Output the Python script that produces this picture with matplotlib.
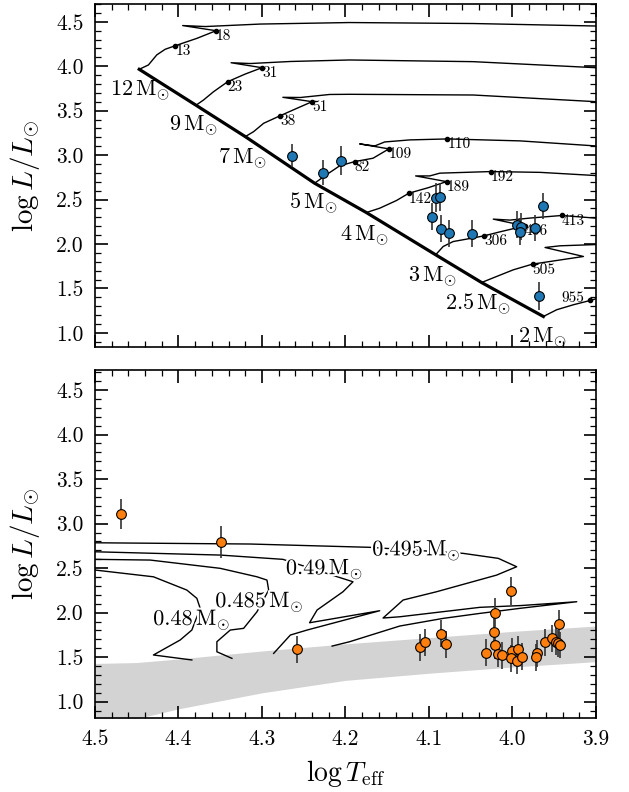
import numpy as np
import matplotlib
matplotlib.use("Agg")
import matplotlib.pyplot as plt
import matplotlib.patheffects as pe
from matplotlib.ticker import MultipleLocator, FormatStrFormatter

plt.rcParams['font.family'] = 'serif'
plt.rcParams['font.serif'] = ['cmr10']
plt.rcParams['mathtext.fontset'] = 'cm'
plt.rcParams['axes.formatter.use_mathtext'] = True

# ---------------- top panel: main-sequence tracks ----------------
track_masses = ['12', '9', '7', '5', '4', '3', '2.5', '2']

trk_12_T = [4.447, 4.436, 4.426, 4.416, 4.404, 4.378, 4.355, 4.395, 4.368, 4.302, 4.195, 4.047, 3.900]
trk_12_L = [3.965, 4.014, 4.127, 4.190, 4.230, 4.313, 4.399, 4.457, 4.446, 4.474, 4.491, 4.480, 4.452]
trk_9_T = [4.379, 4.370, 4.358, 4.341, 4.320, 4.300, 4.337, 4.314, 4.266, 4.195, 4.047, 3.900]
trk_9_L = [3.561, 3.620, 3.713, 3.826, 3.912, 3.983, 4.039, 4.030, 4.053, 4.070, 4.051, 3.983]
trk_7_T = [4.320, 4.310, 4.298, 4.278, 4.258, 4.240, 4.275, 4.254, 4.219, 4.195, 4.047, 3.900]
trk_7_L = [3.208, 3.264, 3.358, 3.444, 3.527, 3.601, 3.650, 3.648, 3.682, 3.684, 3.676, 3.601]
trk_5_T = [4.237, 4.223, 4.207, 4.189, 4.167, 4.148, 4.183, 4.165, 4.153, 4.123, 4.078, 3.991, 3.900]
trk_5_L = [2.684, 2.778, 2.879, 2.927, 2.965, 3.070, 3.126, 3.103, 3.148, 3.171, 3.182, 3.160, 3.103]
trk_4_T = [4.175, 4.159, 4.139, 4.124, 4.101, 4.079, 4.116, 4.099, 4.087, 4.026, 3.967, 3.900]
trk_4_L = [2.354, 2.403, 2.489, 2.572, 2.633, 2.702, 2.766, 2.766, 2.797, 2.815, 2.806, 2.770]
trk_3_T = [4.092, 4.083, 4.071, 4.055, 4.034, 4.015, 3.985, 4.023, 4.003, 3.979, 3.941, 3.900]
trk_3_L = [1.879, 1.972, 2.028, 2.055, 2.092, 2.137, 2.204, 2.280, 2.269, 2.292, 2.321, 2.291]
trk_25_T = [4.037, 4.019, 3.999, 3.976, 3.915, 3.961, 3.943, 3.900]
trk_25_L = [1.567, 1.635, 1.710, 1.774, 1.860, 1.961, 1.980, 1.994]
trk_2_T = [3.963, 3.947, 3.927, 3.907, 3.900]
trk_2_L = [1.185, 1.261, 1.317, 1.365, 1.384]

tracks_T = [trk_12_T, trk_9_T, trk_7_T, trk_5_T, trk_4_T, trk_3_T, trk_25_T, trk_2_T]
tracks_L = [trk_12_L, trk_9_L, trk_7_L, trk_5_L, trk_4_L, trk_3_L, trk_25_L, trk_2_L]

# mass label anchor (right end of label)
mlab_T = [4.410, 4.353, 4.294, 4.209, 4.148, 4.066, 4.001, 3.935]
mlab_L = [3.725, 3.328, 2.965, 2.459, 2.092, 1.635, 1.328, 0.949]

# age markers (Myr) along the tracks
age_lbl = ['13', '18', '23', '31', '38', '51', '82', '109', '110', '142',
           '189', '192', '306', '406', '413', '505', '955']
age_T = [4.404, 4.355, 4.341, 4.300, 4.278, 4.240, 4.189, 4.148, 4.078, 4.124,
         4.079, 4.026, 4.034, 3.985, 3.941, 3.976, 3.907]
age_L = [4.230, 4.399, 3.826, 3.983, 3.444, 3.601, 2.927, 3.070, 3.182, 2.572,
         2.702, 2.815, 2.092, 2.204, 2.321, 1.774, 1.365]

# observed stars (blue)
blue_T = [4.264, 4.227, 4.205, 4.092, 4.087, 4.096, 4.086, 4.076, 4.048,
          3.964, 3.995, 3.990, 3.991, 3.973, 3.968]
blue_L = [2.994, 2.803, 2.938, 2.522, 2.530, 2.309, 2.174, 2.122, 2.118,
          2.429, 2.216, 2.197, 2.140, 2.182, 1.415]
blue_err = [0.13, 0.14, 0.16, 0.16, 0.16, 0.15, 0.15, 0.15, 0.15,
            0.15, 0.15, 0.15, 0.15, 0.15, 0.16]

# ---------------- bottom panel: HB tracks ----------------
hb_masses = ['0.48', '0.485', '0.49', '0.495']
hb_48_T = [4.384, 4.430, 4.398, 4.384, 4.374, 4.378, 4.390, 4.430, 4.500]
hb_48_L = [1.469, 1.525, 1.693, 1.805, 2.049, 2.161, 2.254, 2.403, 2.479]
hb_485_T = [4.336, 4.354, 4.354, 4.338, 4.322, 4.306, 4.292, 4.294, 4.306, 4.350, 4.434, 4.500]
hb_485_L = [1.487, 1.561, 1.674, 1.805, 1.824, 2.010, 2.254, 2.366, 2.403, 2.498, 2.591, 2.599]
hb_49_T = [4.286, 4.266, 4.246, 4.159, 4.243, 4.234, 4.203, 4.191, 4.275, 4.350, 4.500]
hb_49_L = [1.543, 1.749, 1.805, 2.022, 1.887, 2.030, 2.235, 2.347, 2.599, 2.647, 2.684]
hb_495_T = [4.216, 4.195, 4.135, 4.083, 4.039, 3.990, 3.923, 3.990, 4.039, 4.135, 4.155,
            4.131, 4.091, 4.019, 3.995, 4.017, 4.059, 4.171, 4.314, 4.500]
hb_495_L = [1.625, 1.674, 1.850, 1.936, 1.992, 2.050, 2.123, 2.080, 2.060, 1.954, 1.940,
            2.142, 2.235, 2.422, 2.516, 2.610, 2.666, 2.734, 2.771, 2.785]
hb_T = [hb_48_T, hb_485_T, hb_49_T, hb_495_T]
hb_L = [hb_48_L, hb_485_L, hb_49_L, hb_495_L]
hblab_T = [4.384, 4.303, 4.225, 4.115]
hblab_L = [1.917, 2.123, 2.486, 2.703]

# grey band (ZAHB region)
band_T = [4.50, 4.45, 4.40, 4.30, 4.20, 4.10, 4.00, 3.90]
band_lo = [0.70, 0.81, 0.92, 1.10, 1.24, 1.32, 1.39, 1.45]
band_hi = [1.43, 1.44, 1.48, 1.57, 1.65, 1.72, 1.79, 1.85]

# observed stars (orange)
orng_T = [4.469, 4.349, 4.258, 4.111, 4.105, 4.086, 4.080, 4.032, 4.022, 4.021,
          4.021, 4.017, 4.012, 4.002, 4.000, 3.993, 4.002, 3.995, 3.988, 3.971,
          3.972, 3.961, 3.953, 3.948, 3.944, 3.945, 3.943]
orng_L = [3.108, 2.796, 1.588, 1.611, 1.667, 1.763, 1.644, 1.550, 1.786, 2.000,
          1.633, 1.535, 1.521, 2.243, 1.569, 1.588, 1.487, 1.457, 1.505, 1.543,
          1.498, 1.667, 1.712, 1.673, 1.872, 1.656, 1.636]
orng_err = [0.17, 0.18, 0.15, 0.15, 0.15, 0.15, 0.15, 0.15, 0.16, 0.16,
            0.15, 0.15, 0.15, 0.16, 0.15, 0.15, 0.15, 0.15, 0.15, 0.15,
            0.15, 0.15, 0.15, 0.15, 0.16, 0.15, 0.15]

fig = plt.figure(figsize=(6.29, 7.92), dpi=100)
ax1 = fig.add_axes([0.151, 0.562, 0.7965, 0.433])
ax2 = fig.add_axes([0.151, 0.0934, 0.7965, 0.4394])


def style_axis(ax, ylim):
    ax.set_xlim(4.5, 3.9)
    ax.set_ylim(*ylim)
    ax.xaxis.set_major_locator(MultipleLocator(0.1))
    ax.xaxis.set_minor_locator(MultipleLocator(0.02))
    ax.yaxis.set_major_locator(MultipleLocator(0.5))
    ax.yaxis.set_minor_locator(MultipleLocator(0.1))
    ax.xaxis.set_major_formatter(FormatStrFormatter('%.1f'))
    ax.yaxis.set_major_formatter(FormatStrFormatter('%.1f'))
    ax.tick_params(which='both', direction='in', top=True, right=True)
    ax.tick_params(which='major', length=9, width=1.2, labelsize=15.5, pad=8)
    ax.tick_params(which='minor', length=4.5, width=0.9)
    for s in ax.spines.values():
        s.set_linewidth(1.2)
    ax.set_ylabel(r'$\log L/L_{\odot}$', fontsize=21)
    ax.yaxis.set_label_coords(-0.105, 0.5)


# ---- top panel ----
style_axis(ax1, (0.843, 4.70))
ax1.tick_params(labelbottom=False)
for tt, ll in zip(tracks_T, tracks_L):
    ax1.plot(tt, ll, color='black', lw=1.0, zorder=2)
zams_T = [t[0] for t in tracks_T]
zams_L = [l[0] for l in tracks_L]
ax1.plot(zams_T, zams_L, color='black', lw=2.3, zorder=3)
for m, x, y in zip(track_masses, mlab_T, mlab_L):
    ax1.text(x, y, r'$%s\,\mathrm{M}_{\odot}$' % m, fontsize=16, ha='right', va='center')
ax1.plot(age_T, age_L, 'o', color='black', ms=3, zorder=4)
for lbl, x, y in zip(age_lbl, age_T, age_L):
    if lbl == '955':
        ax1.annotate(lbl, (x, y), xytext=(-4, 2), textcoords='offset points',
                     ha='right', va='center', fontsize=11)
    else:
        ax1.annotate(lbl, (x, y), xytext=(0, -4), textcoords='offset points',
                     ha='left', va='center', fontsize=11)
ax1.errorbar(blue_T, blue_L, yerr=blue_err, fmt='o', color='#1f77b4', mec='black',
             mew=0.8, ms=7, ecolor='#333333', elinewidth=1.2, capsize=0, zorder=5)

# ---- bottom panel ----
style_axis(ax2, (0.817, 4.725))
ax2.fill_between(band_T, band_lo, band_hi, color='#d3d3d3', lw=0, zorder=1)
for tt, ll in zip(hb_T, hb_L):
    ax2.plot(tt, ll, color='black', lw=1.0, zorder=2)
for m, x, y in zip(hb_masses, hblab_T, hblab_L):
    ax2.text(x, y, r'$%s\,\mathrm{M}_{\odot}$' % m, fontsize=16, ha='center', va='center',
             zorder=3, path_effects=[pe.withStroke(linewidth=3, foreground='white')])
ax2.errorbar(orng_T, orng_L, yerr=orng_err, fmt='o', color='#ff7f0e', mec='black',
             mew=0.8, ms=7, ecolor='#333333', elinewidth=1.2, capsize=0, zorder=5)
ax2.set_xlabel(r'$\log T_{\rm eff}$', fontsize=20)
ax2.xaxis.set_label_coords(0.5, -0.115)

fig.savefig('out.png', dpi=100)
